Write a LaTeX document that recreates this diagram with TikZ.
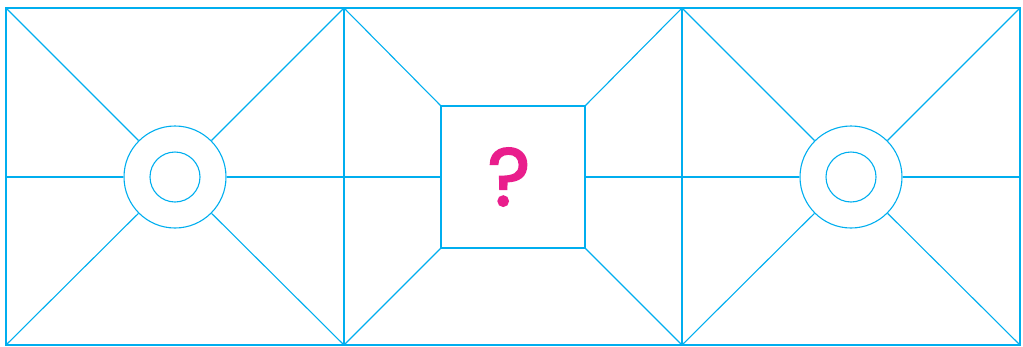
\documentclass[tikz,border=0pt]{standalone}
\usepackage{fontspec}
\newfontfamily\qfont[FakeBold=2]{Poppins}
\definecolor{wire}{RGB}{0,174,239}
\definecolor{qmag}{RGB}{233,30,140}
\begin{document}
\begin{tikzpicture}[x=1pt,y=-1pt,
  wl/.style={draw=wire,line width=1.1pt},
  ring/.style={circle,draw=wire,line width=1.1pt,inner sep=0pt,minimum size=#1},
  box/.style={rectangle,draw=wire,line width=1.1pt,inner sep=0pt,minimum width=144pt,minimum height=142pt}]
\useasboundingbox (0,0) rectangle (1023,346);
% corners
\coordinate (A0) at (6,8);
\coordinate (A1) at (344,8);
\coordinate (A2) at (682,8);
\coordinate (A3) at (1020,8);
\coordinate (B0) at (6,345);
\coordinate (B1) at (344,345);
\coordinate (B2) at (682,345);
\coordinate (B3) at (1020,345);
\coordinate (M0) at (6,177);
\coordinate (M1) at (344,177);
\coordinate (M2) at (682,177);
\coordinate (M3) at (1020,177);
% frame
\draw[wl] (A0) rectangle (B3);
\draw[wl] (A1) -- (B1);
\draw[wl] (A2) -- (B2);
% nodes
\node[ring=102pt] (c1) at (175,177) {};
\node[ring=50pt] (d1) at (175,177) {};
\node[ring=102pt] (c3) at (851,177) {};
\node[ring=50pt] (d3) at (851,177) {};
\node[box] (sq) at (513,177) {};
\node[text=qmag,font=\qfont\fontsize{82}{82}\selectfont] (q) at (509,177) {?};
% left panel
\draw[wl] (A0) -- (c1);
\draw[wl] (A1) -- (c1);
\draw[wl] (B0) -- (c1);
\draw[wl] (B1) -- (c1);
\draw[wl] (M0) -- (c1.west);
\draw[wl] (M1) -- (c1.east);
% middle panel
\draw[wl] (A1) -- (sq.north west);
\draw[wl] (A2) -- (sq.north east);
\draw[wl] (B1) -- (sq.south west);
\draw[wl] (B2) -- (sq.south east);
\draw[wl] (M1) -- (sq.west);
\draw[wl] (M2) -- (sq.east);
% right panel
\draw[wl] (A2) -- (c3);
\draw[wl] (A3) -- (c3);
\draw[wl] (B2) -- (c3);
\draw[wl] (B3) -- (c3);
\draw[wl] (M2) -- (c3.west);
\draw[wl] (M3) -- (c3.east);
\end{tikzpicture}
\end{document}
